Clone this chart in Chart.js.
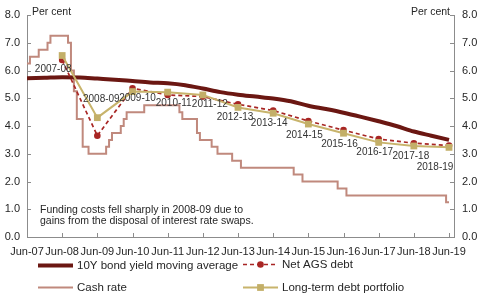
<!DOCTYPE html>
<html>
<head>
<meta charset="utf-8">
<script src="https://cdn.jsdelivr.net/npm/chart.js@4/dist/chart.umd.min.js"></script>
<style>
	body { margin: 0; background: #fff; }
	#chart { display: block; }
</style>
</head>
<body>
<canvas id="chart" width="480" height="306"></canvas>
<script>
// x axis is in months from Jun-07
const xTickLabels = ["Jun-07", "Jun-08", "Jun-09", "Jun-10", "Jun-11", "Jun-12", "Jun-13", "Jun-14", "Jun-15", "Jun-16", "Jun-17", "Jun-18", "Jun-19"];

// 10Y bond yield moving average, read every 6 months from Jun-07
const bondYield = [5.72, 5.74, 5.76, 5.75, 5.71, 5.67, 5.62, 5.57, 5.54, 5.47, 5.35, 5.22, 5.13,
	5.06, 4.99, 4.89, 4.73, 4.61, 4.48, 4.33, 4.17, 4.00, 3.80, 3.65, 3.50];

// cash rate: month of change and new rate
const cashDates = ["2007-06", "2007-08", "2007-11", "2008-02", "2008-03", "2008-09", "2008-10", "2008-11", "2008-12",
	"2009-02", "2009-04", "2009-10", "2009-11", "2009-12", "2010-03", "2010-04", "2010-05", "2010-11",
	"2011-11", "2011-12", "2012-05", "2012-06", "2012-10", "2012-12", "2013-05", "2013-08",
	"2015-02", "2015-05", "2016-05", "2016-08", "2019-06"];
const cashRate = [6.25, 6.5, 6.75, 7.0, 7.25, 7.0, 6.0, 5.25, 4.25,
	3.25, 3.0, 3.25, 3.5, 3.75, 4.0, 4.25, 4.5, 4.75,
	4.5, 4.25, 3.75, 3.5, 3.25, 3.0, 2.75, 2.5,
	2.25, 2.0, 1.75, 1.5, 1.25];

// financial years, point sits at June of the end year
const fyLabels = ["2007-08", "2008-09", "2009-10", "2010-11", "2011-12", "2012-13", "2013-14", "2014-15", "2015-16", "2016-17", "2017-18", "2018-19"];
const netAGS = [6.38, 3.65, 5.36, 5.12, 5.06, 4.78, 4.56, 4.18, 3.85, 3.53, 3.38, 3.30];
const longTerm = [6.54, 4.30, 5.24, 5.22, 5.12, 4.67, 4.46, 4.07, 3.74, 3.41, 3.28, 3.23];

const FONT = "'Liberation Sans', Arial, sans-serif";
const AXIS_COL = "#8c8c8c";
const TEXT_COL = "#262626";

function monthIdx(s) {
	const [y, m] = s.split("-").map(Number);
	return (y - 2007) * 12 + (m - 6);
}

const bondPts = bondYield.map((v, i) => ({ x: i * 6, y: v }));
// chart shows each move at the end of the previous month
const cashPts = cashDates.map((d, i) => ({ x: i === 0 ? 0 : monthIdx(d) - 1, y: cashRate[i] }));
cashPts.push({ x: monthIdx(cashDates[cashDates.length - 1]), y: cashRate[cashRate.length - 1] });
const fyX = fyLabels.map(l => (Number(l.slice(0, 4)) + 1 - 2007) * 12);
const netPts = netAGS.map((v, i) => ({ x: fyX[i], y: v }));
const ltPts = longTerm.map((v, i) => ({ x: fyX[i], y: v }));

// label offsets from each long-term point (px)
const fyOffsets = [[-9, 14], [4, -18], [5, 7], [6, 11], [7, 9], [-3, 10], [-4, 10], [-4, 11], [-4, 11], [-4, 10], [-3, 10], [-14, 20]];

const extras = {
	id: "extras",
	afterDraw(chart) {
		const ctx = chart.ctx;
		const a = chart.chartArea;
		const xs = chart.scales.x, ys = chart.scales.y;
		ctx.save();
		// inside tick marks
		ctx.strokeStyle = AXIS_COL;
		ctx.lineWidth = 1;
		ctx.beginPath();
		xs.ticks.forEach(t => {
			const px = Math.round(xs.getPixelForValue(t.value)) + 0.5;
			ctx.moveTo(px, a.bottom); ctx.lineTo(px, a.bottom - 4);
		});
		ys.ticks.forEach(t => {
			const py = Math.round(ys.getPixelForValue(t.value)) + 0.5;
			ctx.moveTo(a.left, py); ctx.lineTo(a.left + 4, py);
			ctx.moveTo(a.right, py); ctx.lineTo(a.right - 4, py);
		});
		ctx.stroke();

		ctx.fillStyle = TEXT_COL;
		ctx.textBaseline = "middle";
		ctx.font = "10.5px " + FONT;
		ctx.textAlign = "left";
		ctx.fillText("Per cent", a.left + 5, 12);
		ctx.textAlign = "right";
		ctx.fillText("Per cent", a.right - 4, 12);

		// note
		ctx.textAlign = "left";
		ctx.fillText("Funding costs fell sharply in 2008-09 due to", 40, 210);
		ctx.fillText("gains from the disposal of interest rate swaps.", 40, 221);

		// financial year labels
		ctx.font = "10px " + FONT;
		ctx.textAlign = "center";
		ctx.fillStyle = "#333";
		const meta = chart.getDatasetMeta(0);
		meta.data.forEach((p, i) => {
			ctx.fillText(fyLabels[i], p.x + fyOffsets[i][0], p.y + fyOffsets[i][1]);
		});

		// legend
		const items = [
			{ ds: 2, x: 38, y: 265.5 },
			{ ds: 1, x: 243, y: 264.5 },
			{ ds: 3, x: 38, y: 287.5 },
			{ ds: 0, x: 243, y: 287.5 }
		];
		ctx.font = "11.5px " + FONT;
		ctx.textAlign = "left";
		items.forEach(it => {
			const d = chart.data.datasets[it.ds];
			ctx.strokeStyle = d.borderColor;
			ctx.lineWidth = d.borderWidth;
			ctx.setLineDash(d.borderDash || []);
			ctx.beginPath();
			ctx.moveTo(it.x, it.y); ctx.lineTo(it.x + 35, it.y);
			ctx.stroke();
			ctx.setLineDash([]);
			if (d.pointRadius) {
				ctx.fillStyle = d.pointBackgroundColor;
				ctx.beginPath();
				if (d.pointStyle === "rect") {
					const s = d.pointRadius * Math.SQRT1_2;
					ctx.rect(it.x + 17.5 - s, it.y - s, 2 * s, 2 * s);
				} else {
					ctx.arc(it.x + 17.5, it.y, d.pointRadius, 0, Math.PI * 2);
				}
				ctx.fill();
			}
			ctx.fillStyle = TEXT_COL;
			ctx.fillText(d.label, it.x + 39, it.y);
		});
		ctx.restore();
	}
};

const yScale = (pos, w) => ({
	position: pos,
	min: 0,
	max: 8,
	grid: { display: true, drawOnChartArea: false, drawTicks: false },
	border: { color: AXIS_COL, width: 1 },
	ticks: {
		stepSize: 1,
		padding: pos === "left" ? 7 : 8,
		color: TEXT_COL,
		font: { family: FONT, size: 11 },
		callback: v => v.toFixed(1)
	},
	afterFit: s => { s.width = w; }
});

new Chart(document.getElementById("chart"), {
	type: "line",
	data: {
		datasets: [
			{
				label: "Long-term debt portfolio",
				data: ltPts,
				borderColor: "#c8b46c",
				backgroundColor: "#c8b46c",
				borderWidth: 2,
				pointStyle: "rect",
				pointRadius: 4.8,
				pointBackgroundColor: "#c3af68",
				pointBorderColor: "#c3af68",
				pointBorderWidth: 0,
				tension: 0
			},
			{
				label: "Net AGS debt",
				data: netPts,
				borderColor: "#a82624",
				backgroundColor: "#a82624",
				borderWidth: 1.7,
				borderDash: [4, 3],
				pointStyle: "circle",
				pointRadius: 3.3,
				pointBackgroundColor: "#a82624",
				pointBorderColor: "#a82624",
				pointBorderWidth: 0,
				tension: 0
			},
			{
				label: "10Y bond yield moving average",
				data: bondPts,
				borderColor: "#6b1712",
				borderWidth: 4,
				pointRadius: 0,
				cubicInterpolationMode: "monotone"
			},
			{
				label: "Cash rate",
				data: cashPts,
				borderColor: "#c0897d",
				borderWidth: 2,
				pointRadius: 0,
				stepped: "before"
			}
		]
	},
	options: {
		responsive: false,
		animation: false,
		devicePixelRatio: 1,
		layout: { padding: { top: 15, bottom: 47, left: 0, right: 0 } },
		plugins: { legend: { display: false }, tooltip: { enabled: false } },
		scales: {
			x: {
				type: "linear",
				min: 0,
				max: 145.7,
				grid: { display: true, drawOnChartArea: false, drawTicks: false },
				border: { color: AXIS_COL, width: 1 },
				afterBuildTicks: s => { s.ticks = xTickLabels.map((l, i) => ({ value: i * 12 })); },
				ticks: {
					padding: 8,
					autoSkip: false,
					maxRotation: 0,
					color: TEXT_COL,
					font: { family: FONT, size: 11 },
					callback: v => xTickLabels[v / 12]
				},
				afterFit: s => { s.height = 22; }
			},
			y: yScale("left", 27),
			y2: yScale("right", 26)
		}
	},
	plugins: [extras]
});
</script>
</body>
</html>
